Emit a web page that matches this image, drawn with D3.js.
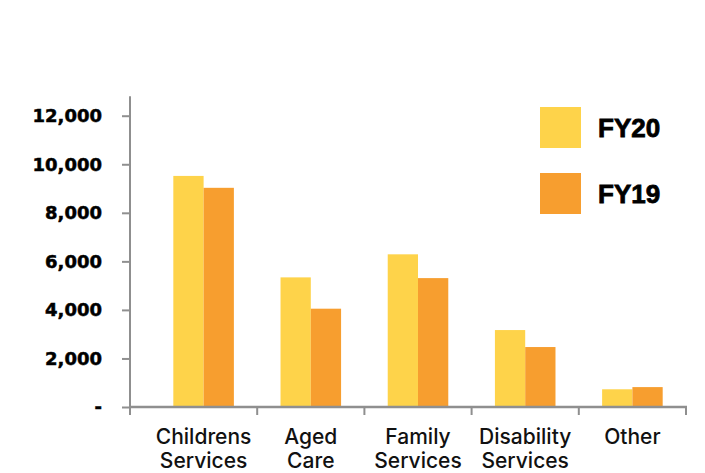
<!DOCTYPE html>
<html>
<head>
<meta charset="utf-8">
<script src="https://cdn.jsdelivr.net/npm/d3@7"></script>
<style>
  body { margin: 0; background: #fff; }
  svg { display: block; }
</style>
</head>
<body>
<svg id="chart"></svg>
<script>
// data
var CATEGORIES = ["Childrens Services", "Aged Care", "Family Services", "Disability Services", "Other"];
var CAT_LINES = [["Childrens", "Services"], ["Aged", "Care"], ["Family", "Services"], ["Disability", "Services"], ["Other"]];
var SERIES = ["FY20", "FY19"];
var FY20 = [9520, 5340, 6290, 3170, 730];
var FY19 = [9030, 4050, 5310, 2470, 820];
var Y_TICKS = [0, 2000, 4000, 6000, 8000, 10000, 12000];

var COLORS = {"FY20": "#FED34A", "FY19": "#F79E2F"};
var AXIS_COLOR = "#8f8f8f";

var width = 705, height = 473;
var svg = d3.select("#chart").attr("width", width).attr("height", height);

var axisX = 130, plotRight = 686;
var y = d3.scaleLinear().domain([0, 12800]).range([407, 96.3]);
var x0 = d3.scaleBand().domain(CATEGORIES).range([150, plotRight]).padding(0);
var x1 = d3.scaleBand().domain(SERIES).range([0, x0.bandwidth()]).paddingInner(0).paddingOuter(0.77);

var rows = CATEGORIES.map(function(c, i) {
    return {cat: c, lines: CAT_LINES[i], values: [
        {series: "FY20", value: FY20[i]},
        {series: "FY19", value: FY19[i]}
    ]};
});

// bars
var groups = svg.append("g").selectAll(".cat").data(rows).enter().append("g")
    .attr("class", "cat")
    .attr("transform", function(d) { return "translate(" + x0(d.cat) + ",0)"; });

groups.selectAll("rect").data(function(d) { return d.values; }).enter().append("rect")
    .attr("x", function(d) { return x1(d.series); })
    .attr("y", function(d) { return y(d.value); })
    .attr("width", x1.bandwidth())
    .attr("height", function(d) { return y(0) - y(d.value); })
    .attr("fill", function(d) { return COLORS[d.series]; });

// y axis
var yAxis = d3.axisLeft(y).tickValues(Y_TICKS).tickSize(8).tickPadding(20)
    .tickFormat(function(d) { return d === 0 ? "-" : d3.format(",")(d); });
var gy = svg.append("g").attr("transform", "translate(" + axisX + ",0)").call(yAxis);
gy.select(".domain").remove();
gy.selectAll(".tick line").attr("stroke", AXIS_COLOR).attr("stroke-width", 2);
gy.selectAll(".tick text")
    .attr("fill", "#000")
    .attr("stroke", "#000").attr("stroke-width", 0.5)
    .style("font-family", "'DejaVu Sans', sans-serif")
    .style("font-weight", "bold")
    .style("font-size", "18px");

svg.append("line")
    .attr("x1", axisX).attr("x2", axisX)
    .attr("y1", y.range()[1]).attr("y2", y(0) + 8)
    .attr("stroke", AXIS_COLOR).attr("stroke-width", 2);

// x axis
svg.append("line")
    .attr("x1", axisX - 1).attr("x2", plotRight + 1)
    .attr("y1", y(0)).attr("y2", y(0))
    .attr("stroke", AXIS_COLOR).attr("stroke-width", 2.5);

svg.append("g").selectAll("line.xt").data(CATEGORIES).enter().append("line")
    .attr("x1", function(d) { return x0(d) + x0.bandwidth(); })
    .attr("x2", function(d) { return x0(d) + x0.bandwidth(); })
    .attr("y1", y(0)).attr("y2", y(0) + 8)
    .attr("stroke", AXIS_COLOR).attr("stroke-width", 2);

var labels = svg.append("g").selectAll("text.xl").data(rows).enter().append("text")
    .attr("text-anchor", "middle")
    .attr("fill", "#111")
    .style("font-family", "Inter, sans-serif")
    .style("font-weight", 500)
    .style("font-size", "21px");

labels.selectAll("tspan").data(function(d) {
        return d.lines.map(function(l) { return {cat: d.cat, text: l}; });
    }).enter().append("tspan")
    .attr("x", function(d) { return x0(d.cat) + x0.bandwidth() / 2; })
    .attr("y", function(d, i) { return 444 + i * 23.5; })
    .text(function(d) { return d.text; });

// legend
var legend = svg.append("g").selectAll(".leg").data(SERIES).enter().append("g")
    .attr("transform", function(d, i) { return "translate(540," + (107 + i * 66) + ")"; });
legend.append("rect").attr("width", 41).attr("height", 41)
    .attr("fill", function(d) { return COLORS[d]; });
legend.append("text")
    .attr("x", 58).attr("y", 30)
    .attr("fill", "#000")
    .attr("stroke", "#000").attr("stroke-width", 0.8)
    .style("font-family", "'Liberation Sans', Arial, sans-serif")
    .style("font-weight", "bold")
    .style("font-size", "26px")
    .text(function(d) { return d; });
</script>
</body>
</html>
